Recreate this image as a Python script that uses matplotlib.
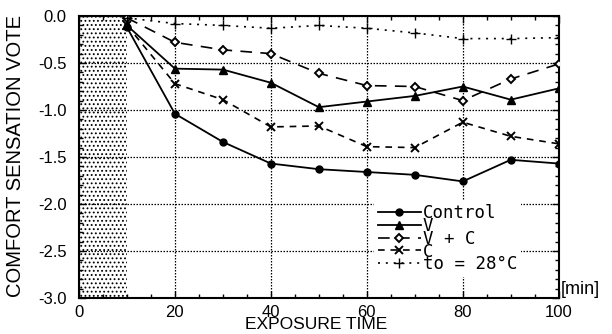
import numpy as np
import matplotlib.pyplot as plt
from matplotlib.ticker import MultipleLocator

plt.rcParams['font.family'] = ['Liberation Sans', 'DejaVu Sans']
plt.rcParams['axes.unicode_minus'] = False
plt.rcParams['hatch.linewidth'] = 0.8

# exposure time [min]
t = np.array([10, 20, 30, 40, 50, 60, 70, 80, 90, 100])

control = [-0.12, -1.04, -1.34, -1.57, -1.63, -1.66, -1.69, -1.76, -1.53, -1.57]
v_only = [-0.10, -0.56, -0.57, -0.71, -0.97, -0.91, -0.85, -0.75, -0.89, -0.77]
v_plus_c = [-0.02, -0.28, -0.36, -0.40, -0.61, -0.74, -0.75, -0.90, -0.67, -0.51]
c_only = [-0.10, -0.72, -0.89, -1.18, -1.17, -1.39, -1.40, -1.13, -1.28, -1.36]
to_28 = [-0.02, -0.08, -0.10, -0.13, -0.10, -0.13, -0.18, -0.24, -0.24, -0.23]

fig = plt.figure(figsize=(6.12, 3.34), dpi=100)
ax = fig.add_axes([0.129, 0.108, 0.784, 0.844])

# pre-exposure period
ax.axvspan(0, 10, facecolor='white', edgecolor='black', hatch='....', lw=0, zorder=1)

ax.plot(t, control, color='black', lw=1.3, marker='o', ms=5, label='Control', zorder=3)
ax.plot(t, v_only, color='black', lw=1.3, marker='^', ms=5.5, label='V', zorder=3)
ax.plot(t, v_plus_c, color='black', lw=1.2, dashes=(7, 5), marker='D', ms=4,
        mfc='white', mew=1.4, label='V + C', zorder=3)
ax.plot(t, c_only, color='black', lw=1.2, dashes=(4, 3.5), marker='x', ms=6,
        mew=1.4, label='C', zorder=3)
ax.plot(t, to_28, color='black', lw=1.2, dashes=(1.2, 3.5), marker='+', ms=7,
        mew=1.0, label='to = 28°C', zorder=3)

ax.set_xlim(0, 100)
ax.set_ylim(-3.0, 0.0)
ax.xaxis.set_major_locator(MultipleLocator(20))
ax.xaxis.set_minor_locator(MultipleLocator(5))
ax.yaxis.set_major_locator(MultipleLocator(0.5))
ax.yaxis.set_minor_locator(MultipleLocator(0.1))
ax.yaxis.set_major_formatter(plt.FormatStrFormatter('%.1f'))
ax.tick_params(which='both', direction='in', top=True, right=True, width=1.0)
ax.tick_params(which='major', length=5, labelsize=12)
ax.tick_params(which='minor', length=3)
ax.tick_params(axis='x', pad=5)
ax.tick_params(axis='y', pad=9)
ax.grid(True, which='major', color='black', lw=0.9, linestyle=(0, (1.2, 1.2)))
for s in ax.spines.values():
    s.set_linewidth(1.5)

ax.set_xlabel('EXPOSURE TIME', fontsize=12.5)
ax.xaxis.set_label_coords(0.494, -0.068, transform=ax.transAxes)
ax.xaxis.label.set_va('top')
ax.set_ylabel('COMFORT SENSATION VOTE', fontsize=14.5)
ax.yaxis.set_label_coords(-0.112, 0.505, transform=ax.transAxes)
ax.text(1.005, 0.0, '[min]', transform=ax.transAxes, fontsize=13,
        ha='left', va='bottom')

leg = ax.legend(loc='upper left', bbox_to_anchor=(0.615, 0.345), frameon=True,
                fancybox=False, edgecolor='none', framealpha=1,
                prop={'family': 'DejaVu Sans Mono', 'size': 12.5},
                handlelength=2.5, handletextpad=0.1, labelspacing=-0.3,
                borderpad=0.2, borderaxespad=0)
leg.set_zorder(4)

fig.savefig('out.png', dpi=100)
